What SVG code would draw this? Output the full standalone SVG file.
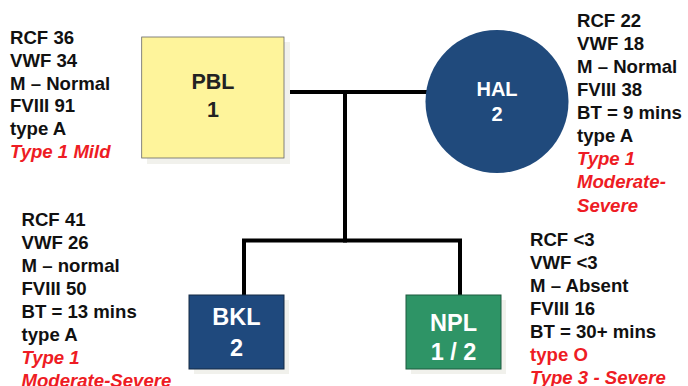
<svg xmlns="http://www.w3.org/2000/svg" width="688" height="386" viewBox="0 0 688 386">
<style>
.info{font-family:"Liberation Sans",Arial,sans-serif;font-weight:bold;font-size:18.6px;fill:#111}
.red{fill:#ee1c24}
.it{font-style:italic}
.lbl{font-family:"Liberation Sans",Arial,sans-serif;font-weight:bold;text-anchor:middle}
.shadow{fill:#f1f1ec}
.conn{stroke:#000;stroke-width:4;fill:none;stroke-linecap:square}
</style>
<rect width="688" height="386" fill="#fff"/>
<g id="connectors">
<path class="conn" d="M284 92 H428"/>
<path class="conn" d="M345 92 V240.5"/>
<path class="conn" d="M244 295 V240.5 H460 V295"/>
</g>
<g id="PBL">
<rect class="shadow" x="147" y="42" width="143" height="122"/>
<rect x="141.7" y="37" width="142.3" height="121" fill="#fef49b" stroke="#666" stroke-width="0.8"/>
<text class="lbl" x="213" y="88.5" font-size="21.5" fill="#222">PBL</text>
<text class="lbl" x="213" y="116.5" font-size="21.5" fill="#222">1</text>
</g>
<g id="HAL">
<circle cx="497" cy="101.5" r="71.5" fill="#204a7c"/>
<text class="lbl" x="497" y="96" font-size="20" fill="#fff">HAL</text>
<text class="lbl" x="497" y="121" font-size="20" fill="#fff">2</text>
</g>
<g id="BKL">
<rect class="shadow" x="194" y="300" width="95" height="74"/>
<rect x="189" y="295" width="95" height="74" fill="#1f497d" stroke="#142a44" stroke-width="1"/>
<text class="lbl" x="236.5" y="325" font-size="23.5" fill="#fff">BKL</text>
<text class="lbl" x="236.5" y="356" font-size="23.5" fill="#fff">2</text>
</g>
<g id="NPL">
<rect class="shadow" x="411" y="300" width="95" height="74"/>
<rect x="406" y="295" width="95" height="74" fill="#2e9466" stroke="#1d5a3e" stroke-width="1"/>
<text class="lbl" x="453.5" y="331" font-size="23.5" fill="#fff">NPL</text>
<text class="lbl" x="453.5" y="359.5" font-size="23.5" fill="#fff">1 / 2</text>
</g>
<g id="PBL-info" class="info">
<text x="10" y="44">RCF 36</text>
<text x="10" y="66.8">VWF 34</text>
<text x="10" y="89.6">M – Normal</text>
<text x="10" y="112.4">FVIII 91</text>
<text x="10" y="135.2">type A</text>
<text x="10" y="158" class="red it">Type 1 Mild</text>
</g>
<g id="HAL-info" class="info">
<text x="577" y="26.7">RCF 22</text>
<text x="577" y="49.8">VWF 18</text>
<text x="577" y="72.9">M – Normal</text>
<text x="577" y="96">FVIII 38</text>
<text x="577" y="119.1">BT = 9 mins</text>
<text x="577" y="142.2">type A</text>
<text x="577" y="165.3" class="red it">Type 1</text>
<text x="577" y="188.4" class="red it">Moderate-</text>
<text x="577" y="211.5" class="red it">Severe</text>
</g>
<g id="BKL-info" class="info">
<text x="21.5" y="226">RCF 41</text>
<text x="21.5" y="249">VWF 26</text>
<text x="21.5" y="272">M – normal</text>
<text x="21.5" y="295">FVIII 50</text>
<text x="21.5" y="318">BT = 13 mins</text>
<text x="21.5" y="341">type A</text>
<text x="21.5" y="364" class="red it">Type 1</text>
<text x="21.5" y="387" class="red it">Moderate-Severe</text>
</g>
<g id="NPL-info" class="info">
<text x="530" y="246">RCF &lt;3</text>
<text x="530" y="269">VWF &lt;3</text>
<text x="530" y="292">M – Absent</text>
<text x="530" y="315">FVIII 16</text>
<text x="530" y="338">BT = 30+ mins</text>
<text x="530" y="361" class="red">type O</text>
<text x="530" y="384" class="red it">Type 3 - Severe</text>
</g>
</svg>
